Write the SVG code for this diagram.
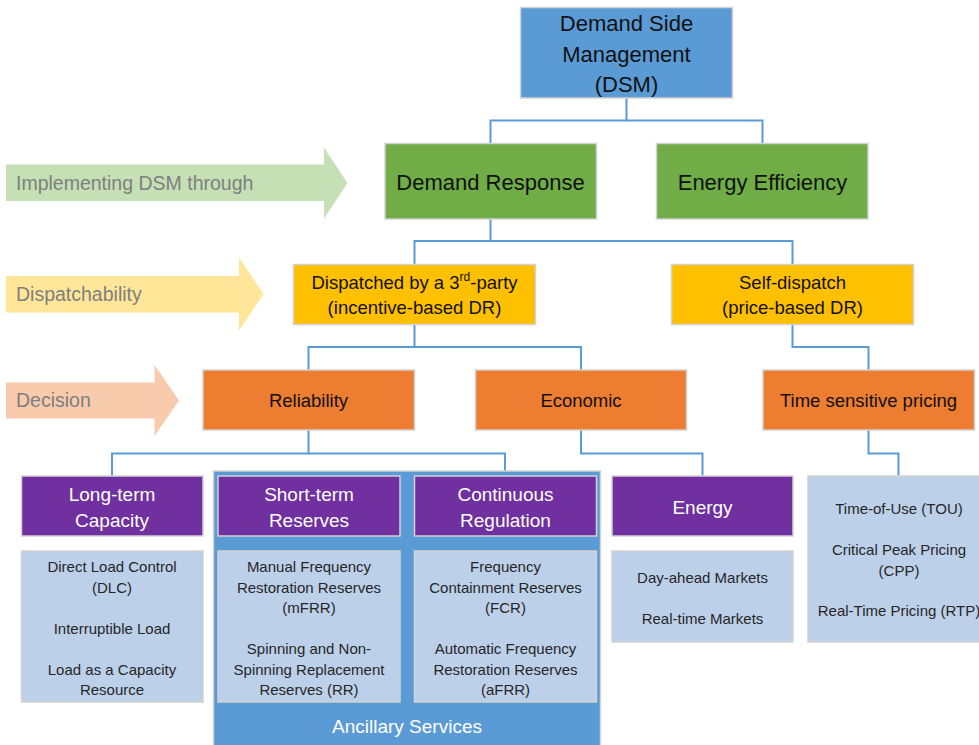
<svg xmlns="http://www.w3.org/2000/svg" width="979" height="745" viewBox="0 0 979 745">
<style>
text{font-family:"Liberation Sans",Arial,sans-serif;text-anchor:middle}
.box{stroke:#D2D2D2;stroke-width:1.5}
.blue{fill:#5B9BD5}
.green{fill:#70AD47}
.gold{fill:#FFC000}
.orange{fill:#ED7D31}
.purple{fill:#7030A0}
.list{fill:#BDD0EA}
.t22{font-size:22px;fill:#111}
.t18{font-size:18.5px;fill:#111}
.th{font-size:19px;fill:#FFFFFF}
.tl{font-size:15px;fill:#262626}
.arr{font-size:19.5px;fill:#7F7F7F;text-anchor:start}
.conn{fill:none;stroke:#5B9BD5;stroke-width:2}
</style>
<rect width="979" height="745" fill="#FFFFFF"/>

<g id="arrows">
<g id="arrow-implementing">
<polygon points="6,164.5 324,164.5 324,147.5 347.5,183 324,218.5 324,201 6,201" fill="#C5E0B4"/>
<text class="arr" x="16" y="190">Implementing DSM through</text>
</g>
<g id="arrow-dispatchability">
<polygon points="6,276 239,276 239,257.5 263.5,294 239,330.5 239,312.5 6,312.5" fill="#FFE699"/>
<text class="arr" x="16" y="301">Dispatchability</text>
</g>
<g id="arrow-decision">
<polygon points="6,382.5 154.5,382.5 154.5,365 179,400.5 154.5,436 154.5,418.5 6,418.5" fill="#F8CBAD"/>
<text class="arr" x="16" y="407">Decision</text>
</g>
</g>

<g id="connectors">
<polyline class="conn" points="626.5,98 626.5,120.5 490.5,120.5 490.5,143.5"/>
<polyline class="conn" points="626.5,120.5 762.5,120.5 762.5,143.5"/>
<polyline class="conn" points="490.5,219 490.5,241 414.5,241 414.5,264.5"/>
<polyline class="conn" points="490.5,241 792.5,241 792.5,264.5"/>
<polyline class="conn" points="414.5,324.5 414.5,347 308.5,347 308.5,370"/>
<polyline class="conn" points="414.5,347 581,347 581,370"/>
<polyline class="conn" points="792.5,324.5 792.5,347 868.5,347 868.5,370"/>
<polyline class="conn" points="308.5,430 308.5,453.5 112,453.5 112,476"/>
<polyline class="conn" points="308.5,453.5 505,453.5 505,476"/>
<polyline class="conn" points="581,430 581,453.5 702.5,453.5 702.5,476"/>
<polyline class="conn" points="868.5,430 868.5,453.5 898.5,453.5 898.5,476"/>
</g>

<g id="dsm">
<rect class="box blue" x="520.5" y="7.5" width="212" height="90.5"/>
<text class="t22" x="626.5" y="31">Demand Side</text>
<text class="t22" x="626.5" y="61.5">Management</text>
<text class="t22" x="626.5" y="92">(DSM)</text>
</g>

<g id="demand-response">
<rect class="box green" x="385" y="143.5" width="211.5" height="75.5"/>
<text class="t22" x="490.5" y="190">Demand Response</text>
</g>

<g id="energy-efficiency">
<rect class="box green" x="656.5" y="143.5" width="211.5" height="75.5"/>
<text class="t22" x="762.5" y="190">Energy Efficiency</text>
</g>

<g id="dispatched-3rd-party">
<rect class="box gold" x="293.5" y="264.5" width="242" height="60"/>
<text class="t18" x="414.5" y="289">Dispatched by a 3<tspan font-size="12" dy="-8">rd</tspan><tspan dy="8">-party</tspan></text>
<text class="t18" x="414.5" y="314">(incentive-based DR)</text>
</g>

<g id="self-dispatch">
<rect class="box gold" x="671.5" y="264.5" width="242" height="60"/>
<text class="t18" x="792.5" y="289">Self-dispatch</text>
<text class="t18" x="792.5" y="314">(price-based DR)</text>
</g>

<g id="reliability">
<rect class="box orange" x="203" y="370" width="211.5" height="60"/>
<text class="t18" x="308.5" y="406.5">Reliability</text>
</g>

<g id="economic">
<rect class="box orange" x="475.5" y="370" width="211" height="60"/>
<text class="t18" x="581" y="406.5">Economic</text>
</g>

<g id="time-sensitive-pricing">
<rect class="box orange" x="763" y="370" width="211.5" height="60"/>
<text class="t18" x="868.5" y="406.5">Time sensitive pricing</text>
</g>

<g id="ancillary-services">
<rect class="box blue" x="213.5" y="471" width="387" height="280"/>
<text x="407" y="732.5" font-size="19" fill="#FFFFFF">Ancillary Services</text>
</g>

<g id="long-term-capacity">
<rect class="box purple" x="21.5" y="476" width="181.5" height="60"/>
<text class="th" x="112" y="501">Long-term</text>
<text class="th" x="112" y="526.5">Capacity</text>
</g>

<g id="long-term-list">
<rect class="box list" x="21.5" y="551" width="181.5" height="151"/>
<text class="tl" x="112" y="572">Direct Load Control</text>
<text class="tl" x="112" y="592.5">(DLC)</text>
<text class="tl" x="112" y="633.5">Interruptible Load</text>
<text class="tl" x="112" y="674.5">Load as a Capacity</text>
<text class="tl" x="112" y="695">Resource</text>
</g>

<g id="short-term-reserves">
<rect class="box purple" x="218" y="476" width="182" height="60"/>
<text class="th" x="309" y="501">Short-term</text>
<text class="th" x="309" y="526.5">Reserves</text>
</g>

<g id="short-term-list">
<rect class="box list" x="218" y="551" width="182" height="151"/>
<text class="tl" x="309" y="572">Manual Frequency</text>
<text class="tl" x="309" y="592.5">Restoration Reserves</text>
<text class="tl" x="309" y="613">(mFRR)</text>
<text class="tl" x="309" y="654">Spinning and Non-</text>
<text class="tl" x="309" y="674.5">Spinning Replacement</text>
<text class="tl" x="309" y="695">Reserves (RR)</text>
</g>

<g id="continuous-regulation">
<rect class="box purple" x="414.5" y="476" width="182" height="60"/>
<text class="th" x="505.5" y="501">Continuous</text>
<text class="th" x="505.5" y="526.5">Regulation</text>
</g>

<g id="continuous-list">
<rect class="box list" x="414.5" y="551" width="182" height="151"/>
<text class="tl" x="505.5" y="572">Frequency</text>
<text class="tl" x="505.5" y="592.5">Containment Reserves</text>
<text class="tl" x="505.5" y="613">(FCR)</text>
<text class="tl" x="505.5" y="654">Automatic Frequency</text>
<text class="tl" x="505.5" y="674.5">Restoration Reserves</text>
<text class="tl" x="505.5" y="695">(aFRR)</text>
</g>

<g id="energy">
<rect class="box purple" x="612" y="476" width="181" height="60"/>
<text class="th" x="702.5" y="513.5">Energy</text>
</g>

<g id="energy-list">
<rect class="box list" x="612" y="551" width="181" height="91"/>
<text class="tl" x="702.5" y="582.5">Day-ahead Markets</text>
<text class="tl" x="702.5" y="623.5">Real-time Markets</text>
</g>

<g id="pricing-list">
<rect class="box list" x="808" y="476" width="182" height="166"/>
<text class="tl" x="899" y="514">Time-of-Use (TOU)</text>
<text class="tl" x="899" y="555">Critical Peak Pricing</text>
<text class="tl" x="899" y="575.5">(CPP)</text>
<text class="tl" x="899" y="616">Real-Time Pricing (RTP)</text>
</g>
</svg>
